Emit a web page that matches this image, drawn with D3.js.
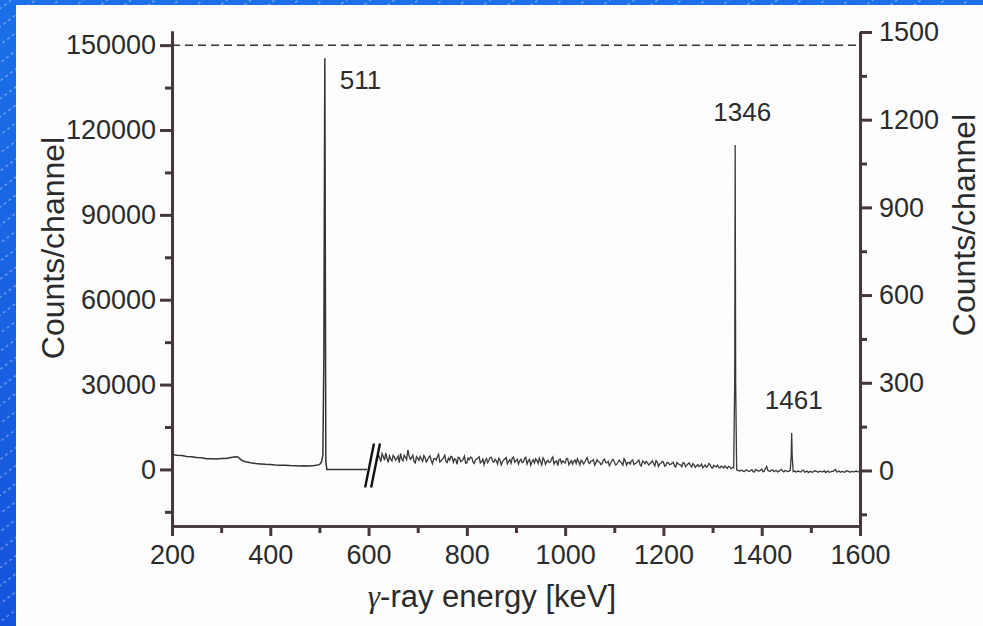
<!DOCTYPE html>
<html>
<head>
<meta charset="UTF-8">
<title>Gamma spectrum</title>
<script src="https://cdn.jsdelivr.net/npm/d3@7"></script>
<style>
  body { margin: 0; background: #fff; }
  svg { display: block; }
  text { font-family: "Liberation Sans", Arial, sans-serif; fill: #2b2b2b; }
  .axis path, .axis line { stroke: #45363f; }
</style>
</head>
<body>
<script>
// ---- data ----
// low range (left axis), [energy keV, counts]
var lowEnergy = [200, 210, 220, 230, 240, 250, 260, 270, 280, 290, 300, 310, 320, 330, 335, 340, 345, 350, 360, 370,
                 380, 390, 400, 410, 420, 430, 440, 450, 460, 470, 480, 490, 500, 504, 507, 509, 511, 513, 515, 597];
var lowCounts = [5300, 5000, 4900, 4550, 4450, 4200, 4100, 3750, 3800, 3650, 3850, 3900, 4200, 4450, 4350, 3500, 3000, 2700, 2350, 2100,
                 1950, 1800, 1750, 1550, 1500, 1450, 1350, 1300, 1250, 1300, 1250, 1400, 1700, 2500, 5000, 40000, 145400, 3000, 0, 0];

// high range (right axis), channels every 5 keV from 615 to 1600
var highStart = 615, highStep = 5;
var highCounts = [
  42, 55, 30, 47, 60, 28, 39, 52, 35, 49,
  58, 33, 45, 70, 38, 52, 26, 41, 48, 31,
  44, 36, 50, 23, 41, 47, 29, 38, 52, 27,
  35, 46, 40, 21, 43, 33, 49, 26, 37, 44,
  24, 39, 47, 30, 20, 41, 35, 45, 28, 33,
  42, 19, 36, 44, 31, 25, 46, 34, 22, 38,
  29, 45, 33, 18, 37, 40, 24, 31, 43, 21,
  35, 28, 46, 30, 17, 39, 33, 25, 41, 27,
  22, 36, 40, 19, 31, 28, 44, 24, 33, 18,
  37, 29, 23, 39, 26, 16, 34, 30, 21, 35,
  25, 40, 18, 28, 33, 20, 26, 36, 15, 29,
  31, 19, 27, 24, 34, 14, 25, 29, 18, 26,
  21, 28, 12, 23, 19, 27, 13, 22, 17, 24,
  11, 20, 16, 9, 19, 14, 21, 8, 15, 18,
  9, 13, 16, 7, 12, 9, 3, 2, -2, 0,
  -4, 1, -3, 3, -5, 0, -2, 5, -3, 14,
  -2, 1, -4, 0, -3, 4, -5, -1, -3, 0,
  -4, -6, -2, -5, 1, -4, -7, -3, -5, -2,
  -6, -3, -4, -7, -2, -5, -3, 3, -4, -6,
  -3, -5, -2, -6, -4, -3, -5, -4
];
// the channels in between, 617.5 to 1597.5 keV
var halfStart = 617.5;
var halfCounts = [
  36, 44, 58, 35, 41, 50, 33, 46, 40, 27,
  40, 52, 37, 49, 44, 30, 47, 35, 39, 51,
  29, 45, 34, 40, 36, 55, 33, 44, 30, 42,
  48, 28, 37, 45, 30, 38, 25, 42, 46, 29,
  36, 43, 26, 39, 34, 27, 45, 31, 38, 22,
  35, 30, 40, 23, 37, 43, 28, 39, 33, 27,
  41, 22, 38, 30, 26, 34, 42, 19, 36, 30,
  27, 40, 22, 33, 36, 24, 29, 40, 20, 34,
  31, 24, 30, 35, 22, 38, 27, 32, 37, 26,
  30, 20, 35, 27, 31, 24, 38, 19, 28, 30,
  18, 32, 27, 22, 36, 24, 30, 19, 32, 23,
  26, 23, 33, 16, 28, 22, 31, 15, 27, 20,
  25, 16, 27, 20, 13, 25, 18, 26, 12, 19,
  16, 13, 22, 14, 11, 24, 10, 17, 12, 11,
  15, 8, 11, 14, 6, 11, 4, -1, 1, -3,
  2, -2, 0, -4, 3, -1, 1, -4, 6, 0,
  -3, 2, -1, -5, 1, -2, 0, -4, 1, -3,
  -2, -3, -5, 0, -6, -2, -4, -6, -1, -4,
  -3, -5, -1, -4, -6, -3, 0, -5, -2, -4,
  -6, -1, -4, -3, -5, -2, -4
];
// sharp lines on the right axis, [energy, counts]
var peak1346 = [[1343, 10], [1345, 300], [1346, 1113], [1347, 300], [1349, 2]];
var peak1461 = [[1458, -2], [1460, 50], [1461, 128], [1462, 50], [1464, -4]];

var peakLabels = [
  { text: "511", energy: 511, axis: "left", value: 145400 },
  { text: "1346", energy: 1346, axis: "right", value: 1113 },
  { text: "1461", energy: 1461, axis: "right", value: 128 }
];

var xTicks = [200, 400, 600, 800, 1000, 1200, 1400, 1600];
var leftTicks = [0, 30000, 60000, 90000, 120000, 150000];
var rightTicks = [0, 300, 600, 900, 1200, 1500];

// ---- layout ----
var W = 983, H = 626;
var svg = d3.select("body").append("svg").attr("width", W).attr("height", H);

var defs = svg.append("defs");
var grad = defs.append("linearGradient").attr("id", "bg").attr("x1", 0).attr("y1", 0).attr("x2", 0).attr("y2", 1);
grad.append("stop").attr("offset", 0).attr("stop-color", "#1b6fe8");
grad.append("stop").attr("offset", 1).attr("stop-color", "#1553db");
var pat = defs.append("pattern").attr("id", "hatch").attr("patternUnits", "userSpaceOnUse")
  .attr("width", 30).attr("height", 14.4).attr("patternTransform", "rotate(-37)");
pat.append("line").attr("x1", 0).attr("y1", 7).attr("x2", 30).attr("y2", 7)
  .attr("stroke", "#ffffff").attr("stroke-opacity", 0.55).attr("stroke-width", 1)
  .attr("stroke-dasharray", "3 3");

svg.append("rect").attr("width", W).attr("height", H).attr("fill", "url(#bg)");
svg.append("rect").attr("width", W).attr("height", H).attr("fill", "url(#hatch)");
svg.append("rect").attr("x", 16).attr("y", 5).attr("width", W - 16).attr("height", H - 5).attr("fill", "#fdfdfd");

var x = d3.scaleLinear().domain([200, 1600]).range([172, 860]);
var yL = d3.scaleLinear().domain([-20000, 155000]).range([526, 31]);
var yR = d3.scaleLinear().domain([-190, 1500]).range([526, 32]);

// dashed reference line at 150000
svg.append("line")
  .attr("x1", x(200)).attr("x2", x(1600))
  .attr("y1", yL(150000)).attr("y2", yL(150000))
  .attr("stroke", "#333").attr("stroke-width", 1.5).attr("stroke-dasharray", "8 5");

// spectrum lines
var lowData = lowEnergy.map(function(e, i) { return [e, lowCounts[i]]; });
var highData = highCounts.map(function(c, i) { return [highStart + i * highStep, c]; })
  .concat(halfCounts.map(function(c, i) { return [halfStart + i * highStep, c]; }));
[peak1346, peak1461].forEach(function(p) {
  var lo = p[0][0], hi = p[p.length - 1][0];
  highData = highData.filter(function(d) { return d[0] < lo || d[0] > hi; });
  highData = highData.concat(p);
});
highData.sort(function(a, b) { return a[0] - b[0]; });

svg.append("path").datum(lowData)
  .attr("fill", "none").attr("stroke", "#333").attr("stroke-width", 1.5)
  .attr("d", d3.line().x(function(d) { return x(d[0]); }).y(function(d) { return yL(d[1]); }));

svg.append("path").datum(highData)
  .attr("fill", "none").attr("stroke", "#383838").attr("stroke-width", 1.3)
  .attr("d", d3.line().x(function(d) { return x(d[0]); }).y(function(d) { return yR(d[1]); }));

// axis break marks
[0, 6].forEach(function(off) {
  svg.append("line")
    .attr("x1", x(593) + off).attr("y1", yL(0) + 18)
    .attr("x2", x(611) + off).attr("y2", yL(0) - 26)
    .attr("stroke", "#111").attr("stroke-width", 2.4);
});

// ---- axes ----
function styleAxis(g, w) {
  g.attr("class", "axis");
  g.selectAll("path").attr("stroke-width", w);
  g.selectAll("line").attr("stroke-width", 3);
  g.selectAll("text").style("font-size", "27px").attr("fill", "#2b2b2b");
}

var minorX = d3.range(300, 1600, 200);
var minorL = [-15000, 15000, 45000, 75000, 105000, 135000];
var minorR = [-150, 150, 450, 750, 1050, 1350];

svg.append("g").attr("transform", "translate(0,526)")
  .call(d3.axisBottom(x).tickValues(minorX).tickSize(7).tickFormat("").tickSizeOuter(0))
  .call(styleAxis, 2.5);
svg.append("g").attr("transform", "translate(0,526)")
  .call(d3.axisBottom(x).tickValues(xTicks).tickSize(10).tickPadding(9).tickSizeOuter(0).tickFormat(d3.format("d")))
  .call(styleAxis, 2.5);

svg.append("g").attr("transform", "translate(172,0)")
  .call(d3.axisLeft(yL).tickValues(minorL).tickSize(7).tickFormat("").tickSizeOuter(0))
  .call(styleAxis, 3);
svg.append("g").attr("transform", "translate(172,0)")
  .call(d3.axisLeft(yL).tickValues(leftTicks).tickSize(12).tickPadding(4).tickSizeOuter(0).tickFormat(d3.format("d")))
  .call(styleAxis, 3);

svg.append("g").attr("transform", "translate(860,0)")
  .call(d3.axisRight(yR).tickValues(minorR).tickSize(7).tickFormat("").tickSizeOuter(0))
  .call(styleAxis, 3);
svg.append("g").attr("transform", "translate(860,0)")
  .call(d3.axisRight(yR).tickValues(rightTicks).tickSize(12).tickPadding(7).tickSizeOuter(0).tickFormat(d3.format("d")))
  .call(styleAxis, 3);

// ---- peak labels ----
peakLabels.forEach(function(p) {
  var t = svg.append("text").style("font-size", "26px").text(p.text);
  if (p.axis === "left") {
    t.attr("x", x(p.energy) + 15).attr("y", yL(p.value) + 31);
  } else {
    t.attr("x", x(p.energy) + (p.energy === 1346 ? 7 : 2)).attr("y", yR(p.value) - 24).attr("text-anchor", "middle");
  }
});

// ---- axis titles ----
svg.append("text").attr("transform", "translate(64,248) rotate(-90)")
  .attr("text-anchor", "middle").style("font-size", "32px").text("Counts/channel");
svg.append("text").attr("transform", "translate(975,225) rotate(-90)")
  .attr("text-anchor", "middle").style("font-size", "32px").text("Counts/channel");

var xt = svg.append("text").attr("x", 492).attr("y", 607)
  .attr("text-anchor", "middle").style("font-size", "31px");
xt.append("tspan").style("font-family", "'Liberation Serif', serif").style("font-style", "italic").text("γ");
xt.append("tspan").text("-ray energy [keV]");
</script>
</body>
</html>
